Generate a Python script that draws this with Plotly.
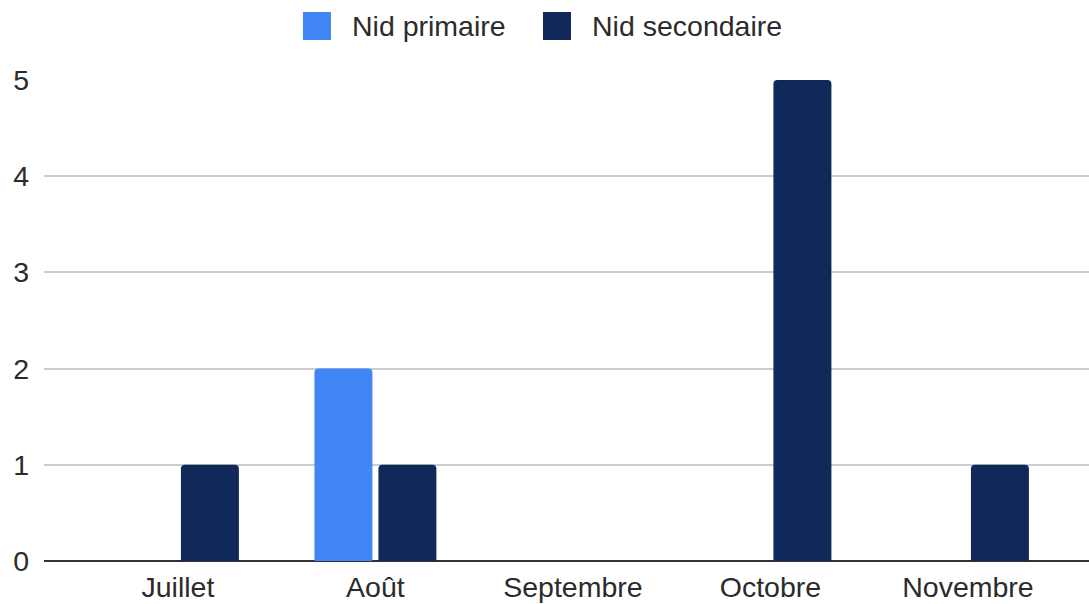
"""Nids par mois - grouped column chart."""

import plotly.graph_objects as go

months = ["Juillet", "Août", "Septembre", "Octobre", "Novembre"]
series_names = ["Nid primaire", "Nid secondaire"]
primary_counts = [0, 2, 0, 0, 0]
secondary_counts = [1, 1, 0, 5, 1]
y_ticks = [0, 1, 2, 3, 4, 5]

colors = ["#4285F4", "#11285A"]
FONT = "Liberation Sans, Arial, sans-serif"
TEXT = "#2b2b2b"
FONT_SIZE = 28.5

fig = go.Figure()

for name, values, color in zip(series_names, [primary_counts, secondary_counts], colors):
    fig.add_trace(
        go.Bar(
            x=months,
            y=values,
            name=name,
            marker=dict(color=color, cornerradius=4, line=dict(width=0)),
            showlegend=False,
        )
    )

# Custom legend (large rounded squares like the source chart), placed in paper coords
legend_boxes = [(0.2478, 0.2746), (0.4775, 0.5043)]
legend_text_x = [0.2928, 0.5225]
for (x0, x1), tx, name, color in zip(legend_boxes, legend_text_x, series_names, colors):
    fig.add_shape(
        type="rect",
        xref="paper",
        yref="paper",
        x0=x0,
        x1=x1,
        y0=1.0832,
        y1=1.1414,
        fillcolor=color,
        line=dict(width=0),
    )
    fig.add_annotation(
        x=tx,
        y=1.112,
        xref="paper",
        yref="paper",
        text=name,
        showarrow=False,
        xanchor="left",
        yanchor="middle",
        font=dict(family=FONT, size=FONT_SIZE, color=TEXT),
    )

fig.update_layout(
    width=1089,
    height=604,
    margin=dict(l=44, r=0, t=80, b=43),
    barmode="group",
    bargap=0.352,
    bargroupgap=0.094,
    plot_bgcolor="white",
    paper_bgcolor="white",
    font=dict(family=FONT, size=FONT_SIZE, color=TEXT),
    showlegend=False,
    xaxis=dict(
        type="category",
        range=[-0.678, 4.613],
        showgrid=False,
        showline=False,
        ticks="",
        tickfont=dict(size=FONT_SIZE, color=TEXT),
        ticklabelstandoff=6,
    ),
    yaxis=dict(
        range=[0, 5],
        tickvals=y_ticks,
        showgrid=True,
        gridcolor="#cccccc",
        gridwidth=1.5,
        zeroline=True,
        zerolinecolor="#333333",
        zerolinewidth=2,
        tickfont=dict(size=FONT_SIZE, color=TEXT),
        ticklabelstandoff=14,
    ),
)

fig.write_html(
    "out.html",
    config={"displayModeBar": False},
    post_script="document.body.style.margin='0';document.body.style.overflow='hidden';",
)
